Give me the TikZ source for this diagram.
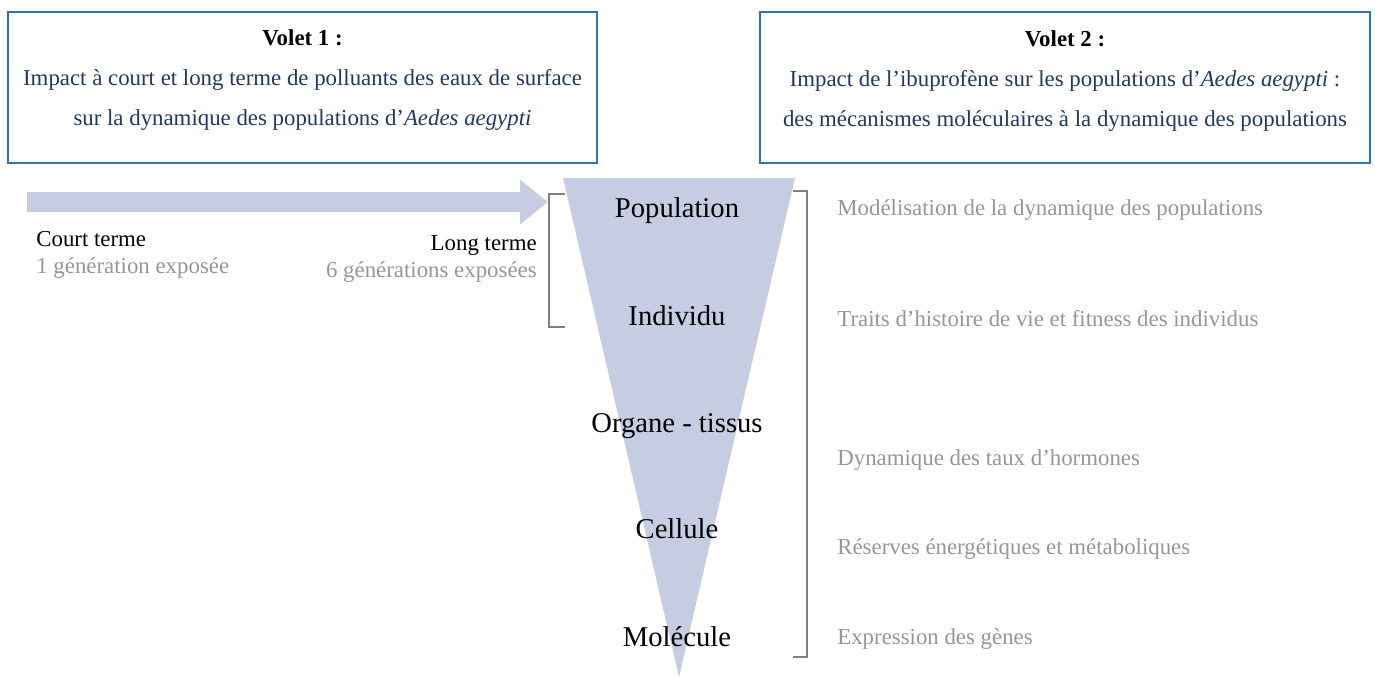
\documentclass[tikz,border=0pt]{standalone}
\usepackage{fontspec}
\setmainfont{Liberation Serif}
\usetikzlibrary{arrows.meta}
\definecolor{voletblue}{RGB}{46,117,182}
\definecolor{navytext}{RGB}{32,56,100}
\definecolor{pale}{RGB}{198,204,226}
\definecolor{greytext}{RGB}{150,150,150}
\definecolor{bracketgrey}{RGB}{128,128,128}

\begin{document}
\begin{tikzpicture}[x=0.02cm,y=-0.02cm,
   volet/.style={draw=voletblue,line width=1.3pt,minimum height=3.02cm,inner sep=0pt},
   volettext/.style={align=center,text=navytext,anchor=base,inner sep=0pt,
      font=\fontsize{13}{22.7}\selectfont},
   level/.style={font=\fontsize{16.3}{18}\selectfont,anchor=base,inner sep=0pt},
   echelle/.style={text=greytext,font=\fontsize{13}{15}\selectfont,anchor=base west,inner sep=0pt},
   terme/.style={font=\fontsize{13}{15}\selectfont,inner sep=0pt},
   fleche/.style={pale,line width=0.4cm,-{Triangle[length=0.56cm,width=0.86cm]}},
   accolade/.style={draw=bracketgrey,line width=0.6pt}]
\useasboundingbox (0,0) rectangle (1375,677);

% les deux volets
\node[volet,minimum width=11.78cm] (volet1) at (302.5,87.5) {};
\node[volettext] (txt1) at (302.5,125)
   {\textbf{\color{black}Volet 1 :}\\
    Impact à court et long terme de polluants des eaux de surface\\
    sur la dynamique des populations d’\textit{Aedes aegypti}};
\node[volet,minimum width=12.2cm] (volet2) at (1065,87.5) {};
\node[volettext] (txt2) at (1065,126)
   {\textbf{\color{black}Volet 2 :}\\
    Impact de l’ibuprofène sur les populations d’\textit{Aedes aegypti} :\\
    des mécanismes moléculaires à la dynamique des populations};

% fleche du temps
\coordinate (debut) at (27,202);
\coordinate (fin) at (548,202);
\draw[fleche] (debut) -- (fin);
\node[terme,anchor=base west] (court) at (36,246) {Court terme};
\node[terme,anchor=base west,text=greytext] (court1) at (36,273) {1 génération exposée};
\node[terme,anchor=base east] (long) at (537,250) {Long terme};
\node[terme,anchor=base east,text=greytext] (long6) at (537,277) {6 générations exposées};

% entonnoir
\fill[pale] (563,178) -- (795,178) -- (679,677) -- cycle;
\node[level] (pop) at (677,217) {Population};
\node[level] (ind) at (677,325) {Individu};
\node[level] (org) at (677,432) {Organe - tissus};
\node[level] (cel) at (677,538) {Cellule};
\node[level] (mol) at (677,646) {Molécule};

% accolades
\coordinate (ga) at (565,194);
\coordinate (gb) at (565,327);
\draw[accolade] (ga) -| (549,327) -- (gb);
\coordinate (da) at (793,191);
\coordinate (db) at (793,657);
\draw[accolade] (da) -| (807,657) -- (db);

% approches
\node[echelle] (e1) at (837,215) {Modélisation de la dynamique des populations};
\node[echelle] (e2) at (837,326) {Traits d’histoire de vie et fitness des individus};
\node[echelle] (e3) at (837,465) {Dynamique des taux d’hormones};
\node[echelle] (e4) at (837,554) {Réserves énergétiques et métaboliques};
\node[echelle] (e5) at (837,644) {Expression des gènes};
\end{tikzpicture}
\end{document}
